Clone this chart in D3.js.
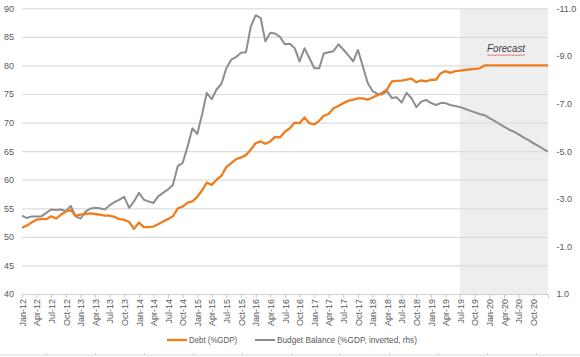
<!DOCTYPE html>
<html>
<head>
<meta charset="utf-8">
<script src="https://cdn.jsdelivr.net/npm/d3@7"></script>
<style>
  html, body { margin: 0; padding: 0; background: #ffffff; }
  svg { display: block; }
  text { font-family: "Liberation Sans", Arial, sans-serif; }
</style>
</head>
<body>
<svg id="chart" width="580" height="357"></svg>
<script>
// ---------------- DATA ----------------
// Monthly observations, Jan-2012 ... Jan-2021
const startMonth = new Date(2012, 0, 1);
const endMonth = new Date(2021, 0, 1);
const forecastStart = new Date(2019, 6, 1); // Jul-19

// Debt (%GDP), left axis
const debt = [
  51.6, 52.0, 52.5, 53.0, 53.1, 53.1, 53.6, 53.2, 53.9, 54.4, 54.7, 53.7,   // 2012
  53.9, 54.0, 54.1, 54.0, 53.9, 53.7, 53.7, 53.5, 53.1, 53.0, 52.6, 51.4,   // 2013
  52.5, 51.7, 51.7, 51.8, 52.2, 52.7, 53.1, 53.6, 55.0, 55.3, 56.0, 56.2,   // 2014
  57.0, 58.2, 59.5, 59.1, 60.0, 60.7, 62.2, 62.9, 63.6, 63.9, 64.3, 65.3,   // 2015
  66.4, 66.7, 66.3, 66.7, 67.5, 67.4, 68.4, 69.0, 70.0, 69.9, 70.9, 69.9,   // 2016
  69.7, 70.3, 71.2, 71.5, 72.5, 72.9, 73.4, 73.8, 74.0, 74.25, 74.25, 74.0, // 2017
  74.4, 74.8, 75.2, 75.8, 77.2, 77.3, 77.35, 77.5, 77.7, 77.05, 77.4, 77.2, // 2018
  77.5, 77.5, 78.6, 79.0, 78.7, 79.0, 79.1, 79.2, 79.3, 79.4, 79.5, 80.0,   // 2019
  80.0, 80.0, 80.0, 80.0, 80.0, 80.0, 80.0, 80.0, 80.0, 80.0, 80.0, 80.0,   // 2020
  80.0                                                                      // Jan-21
];

// Budget balance (%GDP), right axis, inverted
const budget = [
  -2.29, -2.19, -2.26, -2.26, -2.26, -2.41, -2.55, -2.53, -2.55, -2.48, -2.70, -2.26, // 2012
  -2.17, -2.46, -2.58, -2.62, -2.60, -2.55, -2.72, -2.86, -2.96, -3.08, -2.62, -2.89, // 2013
  -3.25, -2.96, -2.89, -2.82, -3.10, -3.25, -3.39, -3.58, -4.38, -4.50, -5.19, -5.96, // 2014
  -5.72, -6.58, -7.45, -7.18, -7.59, -7.83, -8.48, -8.84, -8.96, -9.13, -9.15, -10.23, // 2015
  -10.71, -10.59, -9.61, -9.97, -9.94, -9.80, -9.49, -9.51, -9.32, -8.77, -9.32, -8.91, // 2016
  -8.48, -8.48, -9.10, -9.15, -9.20, -9.49, -9.27, -9.03, -8.77, -9.25, -8.55, -7.86, // 2017
  -7.52, -7.40, -7.38, -7.52, -7.23, -7.26, -7.04, -7.45, -7.22, -6.85, -7.08, -7.15, // 2018
  -7.02, -6.94, -7.02, -7.02, -6.94, -6.90, -6.85, -6.78, -6.70, -6.63, -6.56, -6.51, // 2019
  -6.39, -6.27, -6.15, -6.03, -5.91, -5.82, -5.70, -5.58, -5.46, -5.34, -5.22, -5.10, // 2020
  -4.98                                                                              // Jan-21
];

const leftTicks = [40, 45, 50, 55, 60, 65, 70, 75, 80, 85, 90];
const rightTicks = [1, -1, -3, -5, -7, -9, -11];
const seriesNames = ["Debt (%GDP)", "Budget Balance (%GDP, inverted, rhs)"];
const forecastLabel = "Forecast";

// ---------------- LAYOUT ----------------
const plot = { left: 22, right: 548, top: 8.3, bottom: 294 };
const colors = { debt: "#EE7D1E", budget: "#8E8E8E", grid: "#DCDCDC", text: "#595959", shade: "#EEEEEE" };

const months = d3.timeMonth.range(startMonth, d3.timeMonth.offset(endMonth, 1));
const tickMonths = d3.timeMonth.range(startMonth, endMonth, 3);

const svg = d3.select("#chart");

const x = d3.scaleTime().domain([startMonth, endMonth]).range([plot.left, plot.right]);
const yL = d3.scaleLinear().domain([40, 90]).range([plot.bottom, plot.top]);
const yR = d3.scaleLinear().domain([1, -11]).range([plot.bottom, plot.top]);

// Forecast shading
svg.append("rect")
  .attr("x", x(forecastStart))
  .attr("y", plot.top)
  .attr("width", x(endMonth) - x(forecastStart))
  .attr("height", plot.bottom - plot.top)
  .attr("fill", colors.shade);

// Gridlines
const grid = svg.append("g")
  .attr("transform", `translate(${plot.left},0)`)
  .call(d3.axisLeft(yL).tickValues(leftTicks).tickSize(-(plot.right - plot.left)).tickFormat(""));
grid.select(".domain").remove();
grid.selectAll("line").attr("stroke", colors.grid).attr("stroke-width", 1.2);

// Left axis labels
const axL = svg.append("g")
  .attr("transform", `translate(${plot.left},0)`)
  .call(d3.axisLeft(yL).tickValues(leftTicks).tickSize(0).tickPadding(8));
axL.select(".domain").remove();
axL.selectAll("text").attr("fill", colors.text).style("font-size", "9px");

// Right axis labels
const axR = svg.append("g")
  .attr("transform", `translate(${plot.right},0)`)
  .call(d3.axisRight(yR).tickValues(rightTicks).tickSize(0).tickPadding(8.5)
    .tickFormat(v => v.toFixed(1)));
axR.select(".domain").remove();
axR.selectAll("text").attr("fill", colors.text).style("font-size", "9px");

// Bottom axis
const axB = svg.append("g")
  .attr("transform", `translate(0,${plot.bottom})`)
  .call(d3.axisBottom(x).tickValues(tickMonths).tickSize(4).tickFormat(d3.timeFormat("%b-%y")));
axB.select(".domain").attr("stroke", "#D0D0D0").attr("stroke-width", 1.2);
axB.selectAll("line").attr("stroke", "#C8C8C8");
axB.selectAll("text")
  .attr("fill", colors.text)
  .style("font-size", "9px")
  .attr("transform", "rotate(-90)")
  .attr("x", -5)
  .attr("y", 0)
  .attr("dy", "0.36em")
  .style("text-anchor", "end");

// Lines
const lineDebt = d3.line().x((d, i) => x(months[i])).y(d => yL(d));
const lineBudget = d3.line().x((d, i) => x(months[i])).y(d => yR(d));

svg.append("path").datum(budget)
  .attr("d", lineBudget)
  .attr("fill", "none")
  .attr("stroke", colors.budget)
  .attr("stroke-width", 2)
  .attr("stroke-linejoin", "round");

svg.append("path").datum(debt)
  .attr("d", lineDebt)
  .attr("fill", "none")
  .attr("stroke", colors.debt)
  .attr("stroke-width", 2.3)
  .attr("stroke-linejoin", "round");

// Forecast label with spell-check squiggle
svg.append("text")
  .attr("x", 487)
  .attr("y", 51.7)
  .attr("fill", "#404040")
  .style("font-size", "11px")
  .style("font-style", "italic")
  .attr("textLength", 38)
  .attr("lengthAdjust", "spacingAndGlyphs")
  .text(forecastLabel);

const sq = d3.path();
sq.moveTo(487.5, 54.6);
for (let px = 487.5, k = 0; px < 525; px += 1.5, k++) {
  sq.lineTo(px + 1.5, k % 2 === 0 ? 55.8 : 54.6);
}
svg.append("path").attr("d", sq.toString()).attr("fill", "none")
  .attr("stroke", "#E04848").attr("stroke-width", 0.7);

// Legend
const legendY = 340;
const legendItems = [
  { name: seriesNames[0], color: colors.debt, x0: 167, w: 2.3, len: 48 },
  { name: seriesNames[1], color: colors.budget, x0: 255, w: 2, len: 140 }
];
legendItems.forEach(it => {
  svg.append("line")
    .attr("x1", it.x0).attr("x2", it.x0 + 20)
    .attr("y1", legendY).attr("y2", legendY)
    .attr("stroke", it.color).attr("stroke-width", it.w);
  svg.append("text")
    .attr("x", it.x0 + 22)
    .attr("y", legendY)
    .attr("dy", "0.35em")
    .attr("fill", colors.text)
    .style("font-size", "9.5px")
    .attr("textLength", it.len)
    .attr("lengthAdjust", "spacingAndGlyphs")
    .text(it.name);
});

// Bottom ruler-like border
const rulerTicks = d3.range(0, 11);
svg.append("line")
  .attr("x1", 0).attr("x2", 580).attr("y1", 355).attr("y2", 355)
  .attr("stroke", "#D8D8D8").attr("stroke-width", 1);
svg.selectAll(".rt").data(rulerTicks).enter().append("line")
  .attr("x1", d => 46.5 + d * 49).attr("x2", d => 46.5 + d * 49)
  .attr("y1", 353).attr("y2", 355)
  .attr("stroke", "#D0D0D0").attr("stroke-width", 1);
</script>
</body>
</html>
